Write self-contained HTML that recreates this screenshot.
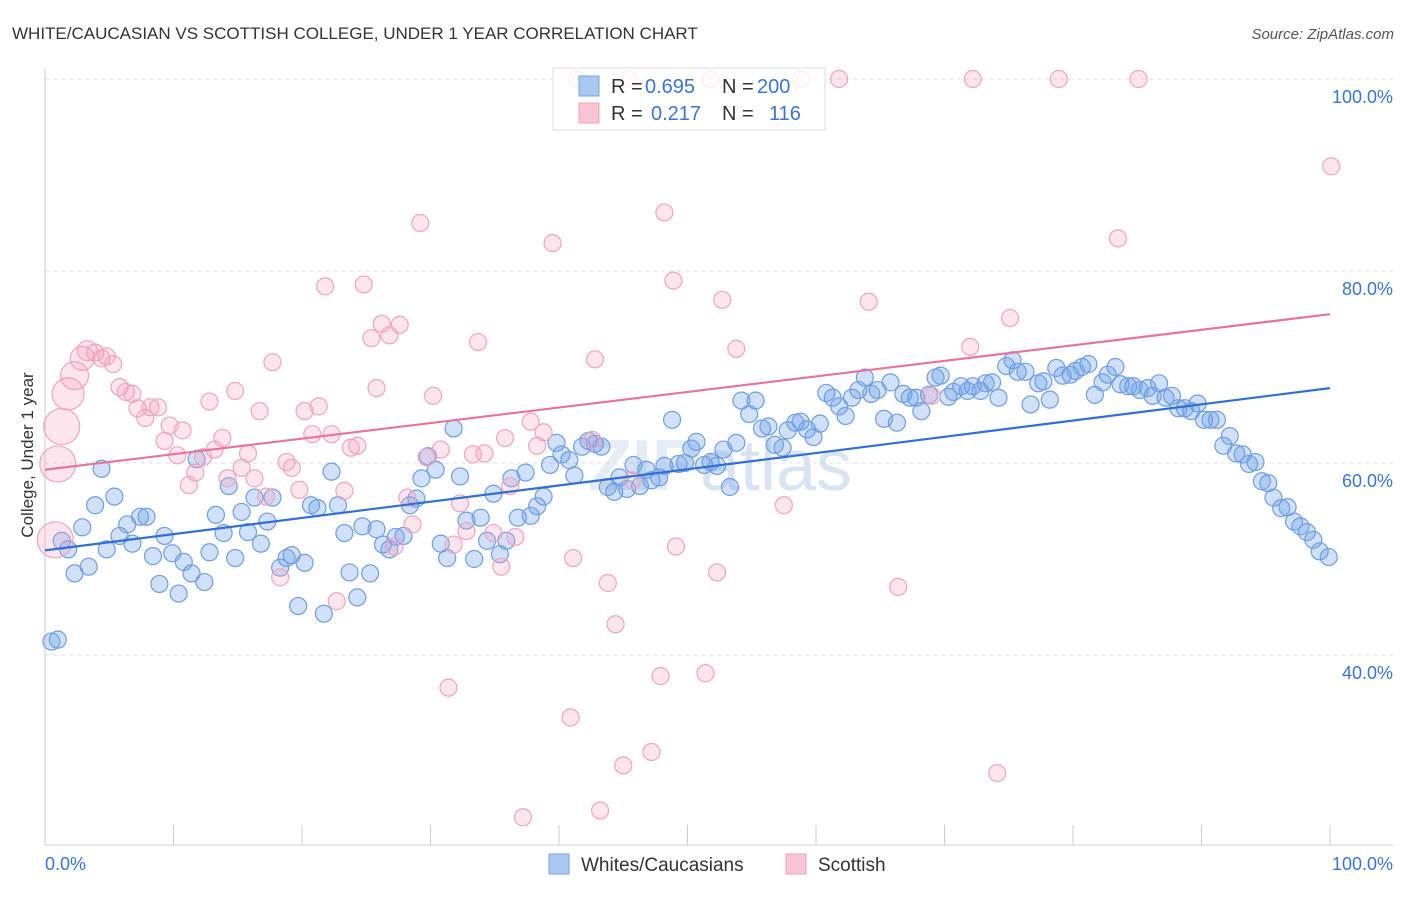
<!DOCTYPE html>
<html><head><meta charset="utf-8"><style>
body{margin:0;background:#fff;font-family:"Liberation Sans",sans-serif;}
svg text{font-family:"Liberation Sans",sans-serif;}
</style></head><body>
<svg id="chart" width="1406" height="892" xmlns="http://www.w3.org/2000/svg">
<text x="12" y="39" font-size="17" fill="#333">WHITE/CAUCASIAN VS SCOTTISH COLLEGE, UNDER 1 YEAR CORRELATION CHART</text>
<text x="1394" y="39" font-size="15" fill="#555" font-style="italic" text-anchor="end">Source: ZipAtlas.com</text>
<text x="720" y="490" font-size="72" fill="#e6ecf5" text-anchor="middle" font-weight="bold">ZIP<tspan font-weight="normal" fill="#d9e4f3">atlas</tspan></text>
<g id="grid"></g>
<g id="ticks"></g>
<g id="pts"></g>
<g id="lines"></g>
<text transform="translate(33,455) rotate(-90)" font-size="17" fill="#333" text-anchor="middle">College, Under 1 year</text>
<text x="45" y="870" font-size="18" fill="#3a74d4">0.0%</text>
<text x="1393" y="870" font-size="18" fill="#3a74d4" text-anchor="end">100.0%</text>
<g>
<rect x="553" y="68" width="272" height="62" fill="rgba(255,255,255,0.8)" stroke="#ddd"/>
<rect x="579" y="76" width="20" height="20" fill="#aac7f2" stroke="#7aa3e0"/>
<rect x="579" y="103" width="20" height="20" fill="#f8c3d3" stroke="#eea0b8"/>
<text x="611" y="93" font-size="20" fill="#333">R =</text>
<text x="645" y="93" font-size="20" fill="#3a74d4">0.695</text>
<text x="722" y="93" font-size="20" fill="#333">N =</text>
<text x="757" y="93" font-size="20" fill="#3a74d4">200</text>
<text x="611" y="120" font-size="20" fill="#333">R =</text>
<text x="651" y="120" font-size="20" fill="#3a74d4">0.217</text>
<text x="722" y="120" font-size="20" fill="#333">N =</text>
<text x="769" y="120" font-size="20" fill="#3a74d4">116</text>
</g>
<g>
<rect x="549" y="854" width="20" height="20" fill="#aac7f2" stroke="#7aa3e0"/>
<text x="581" y="871" font-size="19" fill="#333">Whites/Caucasians</text>
<rect x="786" y="854" width="20" height="20" fill="#f8c3d3" stroke="#eea0b8"/>
<text x="818" y="871" font-size="19" fill="#333">Scottish</text>
</g>
</svg>
<script>
const yTicks=[40,60,80,100];
const yTickLabels=["40.0%","60.0%","80.0%","100.0%"];
const xTicks=[0,10,20,30,40,50,60,70,80,90,100];
const blueX=[0.5,1.0,1.3,1.8,2.3,2.9,3.4,3.9,4.4,4.8,5.4,5.8,6.4,6.8,7.4,7.9,8.4,8.9,9.3,9.9,10.4,10.8,11.4,11.8,12.4,12.8,13.3,13.9,14.3,14.8,15.3,15.8,16.3,16.8,17.3,17.7,18.3,18.8,19.2,19.7,20.2,20.7,21.2,21.7,22.3,22.8,23.3,23.7,24.3,24.7,25.3,25.8,26.3,26.8,27.3,27.9,28.4,28.9,29.3,29.8,30.4,30.8,31.3,31.8,32.3,32.8,33.4,33.9,34.4,34.9,35.4,35.9,36.3,36.8,37.4,37.8,38.3,38.8,39.3,39.8,40.2,40.8,41.2,41.8,42.3,42.8,43.3,43.8,44.3,44.7,45.3,45.8,46.3,46.8,47.2,47.8,48.2,48.8,49.3,49.8,50.3,50.7,51.3,51.8,52.3,52.8,53.3,53.8,54.2,54.8,55.3,55.8,56.3,56.8,57.4,57.8,58.4,58.8,59.3,59.8,60.3,60.8,61.3,61.8,62.3,62.8,63.3,63.8,64.3,64.8,65.3,65.8,66.3,66.8,67.3,67.8,68.2,68.8,69.3,69.7,70.3,70.7,71.3,71.8,72.2,72.8,73.2,73.7,74.2,74.8,75.3,75.7,76.3,76.7,77.3,77.7,78.2,78.7,79.2,79.8,80.2,80.7,81.2,81.7,82.3,82.7,83.3,83.7,84.3,84.7,85.2,85.8,86.2,86.7,87.2,87.7,88.2,88.7,89.2,89.7,90.2,90.7,91.2,91.7,92.2,92.7,93.2,93.7,94.2,94.7,95.2,95.6,96.2,96.7,97.2,97.7,98.2,98.7,99.2,99.9];
const blueY=[41.4,41.6,51.9,51.0,48.5,53.3,49.2,55.6,59.4,51.0,56.5,52.4,53.6,51.6,54.4,54.4,50.3,47.4,52.4,50.6,46.4,49.7,48.5,60.4,47.6,50.7,54.6,52.7,57.6,50.1,54.9,52.8,56.4,51.6,53.9,56.4,49.1,50.1,50.4,45.1,49.6,55.6,55.3,44.3,59.1,55.6,52.7,48.6,46.0,53.4,48.5,53.1,51.5,51.0,52.3,52.4,55.6,56.3,58.4,60.7,59.3,51.6,50.1,63.6,58.6,54.0,50.0,54.3,51.9,56.8,50.5,51.9,58.4,54.3,59.0,54.5,55.5,56.5,59.8,62.1,60.9,60.3,58.7,61.7,62.3,62.0,61.7,57.5,57.0,58.5,57.3,59.8,57.6,59.3,58.2,58.5,59.7,64.5,59.9,60.0,61.5,62.2,59.8,60.1,59.7,61.4,57.5,62.1,66.5,65.1,66.5,63.6,63.8,61.9,61.6,63.4,64.2,64.3,63.5,62.7,64.1,67.3,66.8,65.9,64.9,66.8,67.6,68.9,67.2,67.6,64.6,68.4,64.2,67.2,66.8,66.8,65.4,67.1,68.9,69.1,66.9,67.4,68.0,67.5,68.0,67.5,68.3,68.4,66.8,70.1,70.7,69.5,69.5,66.1,68.3,68.5,66.6,69.9,69.1,69.2,69.6,70.0,70.3,67.1,68.4,69.2,70.0,68.2,68.0,68.0,67.6,67.8,67.0,68.3,66.8,67.0,65.7,65.7,65.4,66.2,64.5,64.5,64.5,61.8,62.8,61.0,60.9,59.9,60.1,58.1,57.9,56.4,55.3,55.4,53.9,53.4,52.8,52.0,50.8,50.2];
const pinkX=[0.8,1.0,1.3,1.8,2.3,2.9,3.3,3.9,4.4,4.8,5.3,5.8,6.3,6.8,7.2,7.8,8.2,8.8,9.3,9.7,10.3,10.7,11.2,11.7,12.3,12.8,13.2,13.8,14.2,14.8,15.3,15.8,16.3,16.7,17.2,17.7,18.3,18.8,19.2,19.8,20.2,20.8,21.3,21.8,22.3,22.7,23.3,23.8,24.3,24.8,25.4,25.8,26.2,26.8,27.2,27.6,28.2,28.6,29.2,29.7,30.2,30.8,31.4,31.8,32.3,32.8,33.3,33.7,34.2,34.9,35.5,35.8,36.2,36.6,37.2,37.8,38.3,38.8,39.5,40.9,41.1,42.6,42.8,43.2,43.8,44.4,45.0,45.7,47.2,47.9,48.2,48.9,49.1,51.4,52.3,52.7,53.8,57.5,64.1,66.4,69.0,72.0,74.1,75.1,83.5,100.1,41.4,45.4,51.8,58.8,61.8,72.2,78.9,85.1];
const pinkY=[52.0,59.9,63.8,67.2,69.1,70.9,71.7,71.5,70.9,71.1,70.3,67.9,67.4,67.2,65.7,64.7,65.8,65.8,62.3,63.9,60.8,63.4,57.7,59.0,60.6,66.4,61.4,62.6,58.4,67.5,59.5,61.0,58.4,65.4,56.5,70.5,48.1,60.1,59.5,57.2,65.4,63.0,65.9,78.4,63.0,45.6,57.1,61.6,61.8,78.6,73.0,67.8,74.5,73.3,51.3,74.4,56.4,53.6,85.0,60.6,67.0,61.4,36.6,51.5,55.8,52.9,60.9,72.6,61.0,52.7,49.2,62.6,57.6,52.3,23.1,64.3,61.8,63.2,82.9,33.5,50.1,62.4,70.8,23.8,47.5,43.2,28.5,58.2,29.9,37.8,86.1,79.0,51.3,38.1,48.6,77.0,71.9,55.6,76.8,47.1,67.0,72.1,27.7,75.1,83.4,90.9,100,100,100,100,100,100,100,100];
const pinkR=[18,18,18,16,14,12,10];
const blueLine=[[0,50.9],[100,67.8]];
const pinkLine=[[0,59.3],[100,75.5]];
const X0=45,X1=1330,Y100=79,PPU=9.6;
const sx=v=>X0+(X1-X0)*v/100;
const sy=v=>Y100+(100-v)*PPU;
const NS="http://www.w3.org/2000/svg";
function mk(tag,attrs,parent){const e=document.createElementNS(NS,tag);for(const k in attrs)e.setAttribute(k,attrs[k]);parent.appendChild(e);return e;}
const grid=document.getElementById('grid'),ticks=document.getElementById('ticks'),pts=document.getElementById('pts'),lines=document.getElementById('lines');
yTicks.forEach((t,i)=>{
 const l=mk('line',{x1:X0,x2:1393,y1:sy(t),y2:sy(t),stroke:'#ddd','stroke-dasharray':'4,4'},grid);
 
 
 const tx=mk('text',{x:1393,y:sy(t)+24,'font-size':18,fill:'#3a74d4','text-anchor':'end'},grid);
 tx.textContent=yTickLabels[i];
 
 
});
const ax=mk('line',{x1:X0,x2:X0,y1:68,y2:845,stroke:'#ccc'},ticks);


const bx=mk('line',{x1:X0,x2:1393,y1:845,y2:845,stroke:'#ccc'},ticks);


xTicks.forEach(t=>{
 const l=mk('line',{x1:sx(t),x2:sx(t),y1:825,y2:845,stroke:'#ccc'},ticks);
 
 
});
blueX.forEach((x,i)=>{
 const c=mk('circle',{cx:sx(x),cy:sy(blueY[i]),r:8.5,fill:'rgba(110,160,235,0.33)',stroke:'#6e9ee3','stroke-width':1.2},pts);
 
 
});
pinkX.forEach((x,i)=>{
 const c=mk('circle',{cx:sx(x),cy:sy(pinkY[i]),r:pinkR[i]||8.5,fill:'rgba(245,160,190,0.28)',stroke:'#f0a3bd','stroke-width':1.2},pts);
 
 
});
const bl=mk('line',{x1:sx(blueLine[0][0]),y1:sy(blueLine[0][1]),x2:sx(blueLine[1][0]),y2:sy(blueLine[1][1]),stroke:'#2f6fd6','stroke-width':2.2},lines);


const pl=mk('line',{x1:sx(pinkLine[0][0]),y1:sy(pinkLine[0][1]),x2:sx(pinkLine[1][0]),y2:sy(pinkLine[1][1]),stroke:'#e8729a','stroke-width':2.2},lines);


</script>
</body></html>
